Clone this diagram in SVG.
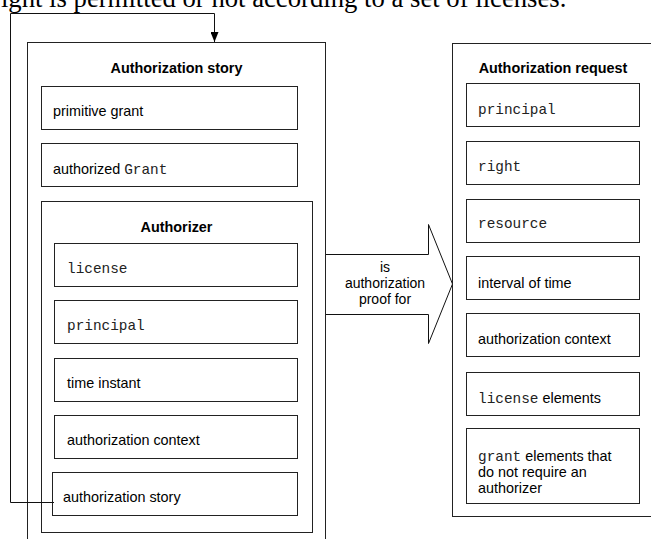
<svg xmlns="http://www.w3.org/2000/svg" width="651" height="539" viewBox="0 0 651 539">
<style>
rect{fill:#fff;stroke:#222;stroke-width:1}
.s{font-family:"Liberation Sans",Arial,sans-serif;font-size:14.4px;fill:#000}
.b{font-family:"Liberation Sans",Arial,sans-serif;font-size:14.4px;font-weight:bold;fill:#000;text-anchor:middle}
.m{font-family:"Liberation Mono","Courier New",monospace;font-size:14.4px;fill:#222}
.c{font-family:"Liberation Sans",Arial,sans-serif;font-size:14px;fill:#000;text-anchor:middle}
.t{font-family:"Liberation Serif","Times New Roman",serif;font-size:26.7px;fill:#000}
.ln{fill:none;stroke:#111;stroke-width:1}
</style>
<defs>
<marker id="ah" markerWidth="10" markerHeight="8" refX="10" refY="4" orient="auto" markerUnits="userSpaceOnUse" viewBox="0 0 10 8">
<path d="M0,0 L10,4 L0,8 Z" fill="#000"/>
</marker>
</defs>
<text class="t" x="-8" y="7">right is permitted or not according to a set of licenses.</text>

<g id="story">
<rect x="27.5" y="42.5" width="298" height="510"/>
<text class="b" x="176.5" y="73">Authorization story</text>
</g>
<g id="primitive-grant">
<rect x="41.5" y="86.5" width="256" height="43"/>
<text class="s" x="53" y="116">primitive grant</text>
</g>
<g id="authorized-grant">
<rect x="41.5" y="143.5" width="256" height="43"/>
<text class="s" x="53" y="174">authorized <tspan class="m">Grant</tspan></text>
</g>
<g id="authorizer">
<rect x="41.5" y="201.5" width="271" height="331"/>
<text class="b" x="176.5" y="232">Authorizer</text>
</g>
<g id="a-license">
<rect x="54.5" y="243.5" width="243" height="43"/>
<text class="s m" x="67" y="273">license</text>
</g>
<g id="a-principal">
<rect x="54.5" y="300.5" width="243" height="43"/>
<text class="s m" x="67" y="330">principal</text>
</g>
<g id="a-time">
<rect x="54.5" y="358.5" width="243" height="43"/>
<text class="s" x="67" y="388">time instant</text>
</g>
<g id="a-context">
<rect x="54.5" y="415.5" width="243" height="43"/>
<text class="s" x="67" y="445">authorization context</text>
</g>
<g id="a-story">
<rect x="52.5" y="472.5" width="245" height="43"/>
<text class="s" x="63" y="502">authorization story</text>
</g>

<g id="request">
<rect x="452.5" y="43.5" width="210" height="473"/>
<text class="b" x="553" y="73">Authorization request</text>
</g>
<g id="r-principal">
<rect x="466.5" y="83.5" width="173" height="43"/>
<text class="s m" x="478" y="114">principal</text>
</g>
<g id="r-right">
<rect x="466.5" y="141.5" width="173" height="43"/>
<text class="s m" x="478" y="171">right</text>
</g>
<g id="r-resource">
<rect x="466.5" y="199.5" width="173" height="43"/>
<text class="s m" x="478" y="228">resource</text>
</g>
<g id="r-interval">
<rect x="466.5" y="256.5" width="173" height="43"/>
<text class="s" x="478" y="288">interval of time</text>
</g>
<g id="r-context">
<rect x="466.5" y="313.5" width="173" height="43"/>
<text class="s" x="478" y="344">authorization context</text>
</g>
<g id="r-license">
<rect x="466.5" y="372.5" width="173" height="43"/>
<text class="s" x="478" y="403"><tspan class="m">license</tspan> elements</text>
</g>
<g id="r-grant">
<rect x="466.5" y="428.5" width="173" height="75"/>
<text class="s" x="478" y="461"><tspan class="m">grant</tspan> elements that</text>
<text class="s" x="478" y="477">do not require an</text>
<text class="s" x="478" y="493">authorizer</text>
</g>

<g id="connectors">
<path class="ln" d="M54,502.5 H10.5 V13.5 H214.5 V42" marker-end="url(#ah)"/>
<g id="proof-arrow">
<path d="M326,254.5 H428.5 V224.5 L452.5,284 L428.5,343.5 V314.5 H326" fill="#fff" stroke="#111" stroke-width="1"/>
<text class="c" x="385" y="272">is</text>
<text class="c" x="385" y="288">authorization</text>
<text class="c" x="385" y="304">proof for</text>
</g>
</g>
</svg>
